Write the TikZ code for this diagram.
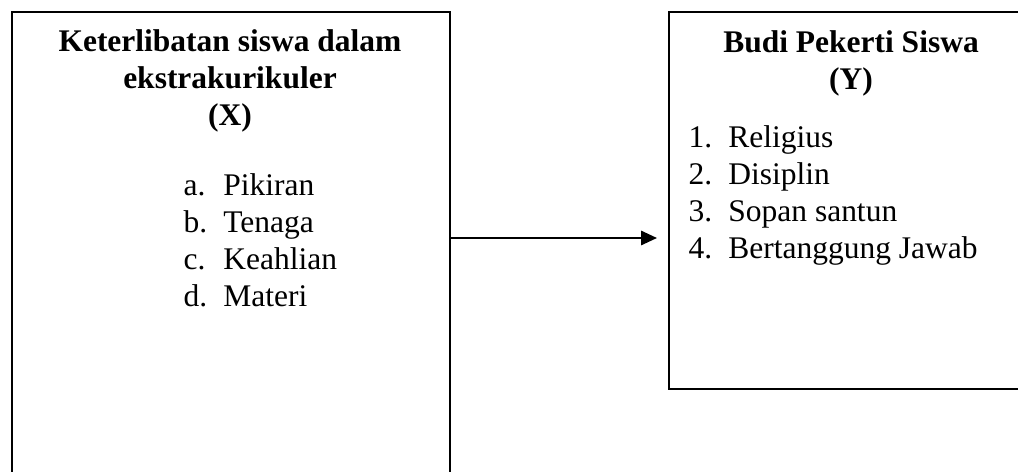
\documentclass[tikz,border=0pt]{standalone}
\usepackage{fontspec}
\setmainfont{Liberation Serif}
\usetikzlibrary{arrows.meta}

\newcommand\butir[2]{\makebox[15.2pt][l]{#1}#2}

\begin{document}
\begin{tikzpicture}[
    x=0.381pt, y=-0.381pt,
    kotak/.style = {draw, line width=0.75pt, anchor=north west, inner sep=0pt},
    judul/.style = {font=\bfseries\fontsize{12}{14}\selectfont, align=center, anchor=base, inner sep=0pt},
    isi/.style   = {font=\fontsize{12}{14}\selectfont, align=left, anchor=base west, inner sep=0pt},
    panah/.style = {draw, line width=0.75pt, -{Triangle[length=6pt, width=5.4pt]}},
]
\useasboundingbox (0,0) rectangle (1018,472);

% kotak variabel
\node [kotak, minimum width=166.9pt, minimum height=186.3pt] (varx) at (11,11) {};
\node [kotak, minimum width=139.4pt, minimum height=143.6pt] (vary) at (668,11) {};

% isi kotak X (anchor base = baris terakhir)
\node [judul] (judulx) at (230,125) {Keterlibatan siswa dalam\\ekstrakurikuler\\(X)};
\node [isi] (isix) at (183,306) {\butir{a.}{Pikiran}\\\butir{b.}{Tenaga}\\\butir{c.}{Keahlian}\\\butir{d.}{Materi}};

% isi kotak Y
\node [judul] (juduly) at (851,89.5) {Budi Pekerti Siswa\\(Y)};
\node [isi] (isiy) at (688,258) {\butir{1.}{Religius}\\\butir{2.}{Disiplin}\\\butir{3.}{Sopan santun}\\\butir{4.}{Bertanggung Jawab}};

% panah X ke Y
\coordinate (tengah) at (449,238);
\draw [panah, shorten >=4.2pt] (varx.east |- tengah) -- (vary.west |- tengah);
\end{tikzpicture}
\end{document}
